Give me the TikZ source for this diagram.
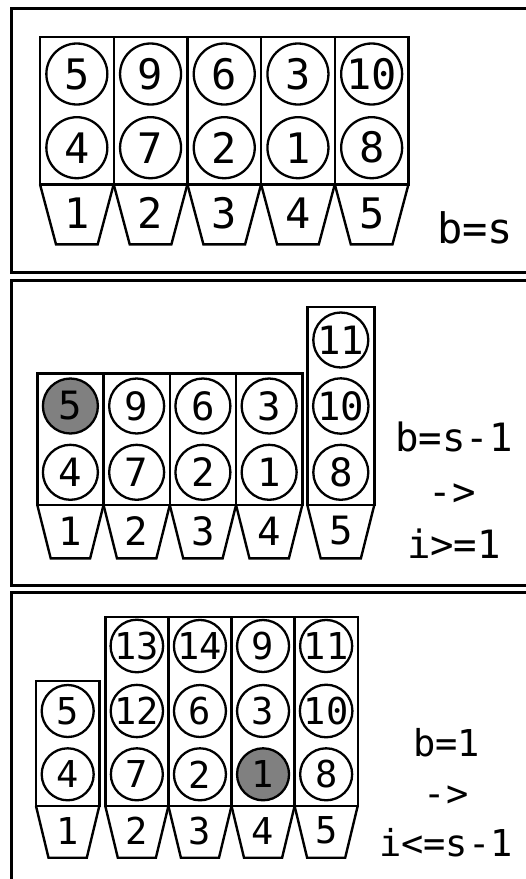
\documentclass[tikz,border=0pt]{standalone}
\usepackage{fontspec}
\setmonofont{DejaVu Sans Mono}
\begin{document}
\begin{tikzpicture}[x=1pt,y=-1pt,
  frame/.style={draw=black,line width=3pt},
  box/.style={draw=black,line width=2.4pt,line join=miter},
  ball/.style={circle,draw=black,line width=2.3pt,inner sep=0pt,fill=white},
  hot/.style={fill=gray},
  fA/.style={font=\ttfamily\fontsize{42}{42}\selectfont},
  fB/.style={font=\ttfamily\fontsize{39}{39}\selectfont},
  fC/.style={font=\ttfamily\fontsize{37}{37}\selectfont},
  lbl/.style={inner sep=0pt,anchor=base}]
\useasboundingbox (0,0) rectangle (526,879);
\clip (0,0) rectangle (526,879);
\fill[white] (0,0) rectangle (526,879);
% frames
\draw[frame] (11.7,8.3) rectangle (570,272.7);
\draw[frame] (11.7,280) rectangle (570,585);
\draw[frame] (11.7,592) rectangle (570,920);
% ---------- panel 1 ----------
\foreach \i/\a/\b in {1/4/5,2/7/9,3/2/6,4/1/3,5/8/10}{
  \pgfmathsetmacro\xl{40+(\i-1)*73.7}
  \pgfmathsetmacro\xr{\xl+73.7}
  \pgfmathsetmacro\xc{\xl+36.85}
  \draw[box] (\xl,36.7) rectangle (\xr,184.3);
  \draw[box] (\xl,184.3) -- (\xl+16,244.3) -- (\xr-16,244.3) -- (\xr,184.3);
  \node[ball,fA,minimum size=61pt] (a\i r1) at (\xc,147.7) {\a};
  \node[ball,fA,minimum size=61pt] (a\i r2) at (\xc,74) {\b};
  \node[fA,inner sep=0pt] (a\i t) at (\xc,213) {\i};
}
\node[fA,lbl] (la) at (475,243) {b=s};
% ---------- panel 2 ----------
\foreach \i/\a/\b in {1/4/5,2/7/9,3/2/6,4/1/3}{
  \pgfmathsetmacro\xl{37.3+(\i-1)*66.25}
  \pgfmathsetmacro\xr{\xl+66.25}
  \pgfmathsetmacro\xc{\xl+33.1}
  \draw[box] (\xl,373.3) rectangle (\xr,505);
  \draw[box] (\xl,505) -- (\xl+13.4,558.3) -- (\xr-13.4,558.3) -- (\xr,505);
  \node[ball,fB,minimum size=55pt] (b\i r1) at (\xc,472.3) {\a};
  \ifnum\i=1
    \node[ball,hot,fB,minimum size=55pt] (b\i r2) at (\xc,406) {\b};
  \else
    \node[ball,fB,minimum size=55pt] (b\i r2) at (\xc,406) {\b};
  \fi
  \node[fB,inner sep=0pt] (b\i t) at (\xc,530.8) {\i};
}
\draw[box] (307.3,306.7) rectangle (374.3,505);
\draw[box] (307.3,505) -- (320.7,558.3) -- (360.9,558.3) -- (374.3,505);
\node[ball,fB,minimum size=55pt] (b5r1) at (340.8,472.3) {8};
\node[ball,fB,minimum size=55pt] (b5r2) at (340.8,406) {10};
\node[ball,fB,minimum size=55pt] (b5r3) at (340.8,340) {11};
\node[fB,inner sep=0pt] (b5t) at (340.8,530.8) {5};
\node[fB,lbl] (lb1) at (454,451.7) {b=s-1};
\node[fB,lbl] (lb2) at (452,505) {->};
\node[fB,lbl] (lb3) at (454,558.3) {i>=1};
% ---------- panel 3 ----------
\draw[box] (36,680.7) rectangle (99.3,806);
\draw[box] (36,806) -- (48.5,857.7) -- (86.8,857.7) -- (99.3,806);
\node[ball,fC,minimum size=52pt] (c1r1) at (67.7,774.3) {4};
\node[ball,fC,minimum size=52pt] (c1r2) at (67.7,711) {5};
\node[fC,inner sep=0pt] (c1t) at (67.7,830.7) {1};
\foreach \i/\a/\b/\c in {2/7/12/13,3/2/6/14,4/1/3/9,5/8/10/11}{
  \pgfmathsetmacro\xl{105.3+(\i-2)*63.1}
  \pgfmathsetmacro\xr{\xl+63.1}
  \pgfmathsetmacro\xc{\xl+31.55}
  \draw[box] (\xl,616.7) rectangle (\xr,806);
  \draw[box] (\xl,806) -- (\xl+12.5,857.7) -- (\xr-12.5,857.7) -- (\xr,806);
  \ifnum\i=4
    \node[ball,hot,fC,minimum size=52pt] (c\i r1) at (\xc,774.3) {\a};
  \else
    \node[ball,fC,minimum size=52pt] (c\i r1) at (\xc,774.3) {\a};
  \fi
  \node[ball,fC,minimum size=52pt] (c\i r2) at (\xc,711) {\b};
  \node[ball,fC,minimum size=52pt] (c\i r3) at (\xc,646) {\c};
  \node[fC,inner sep=0pt] (c\i t) at (\xc,830.7) {\i};
}
\node[fC,lbl] (lc1) at (446.7,756.7) {b=1};
\node[fC,lbl] (lc2) at (446,806.7) {->};
\node[fC,lbl] (lc3) at (446,856.7) {i<=s-1};
\end{tikzpicture}
\end{document}
